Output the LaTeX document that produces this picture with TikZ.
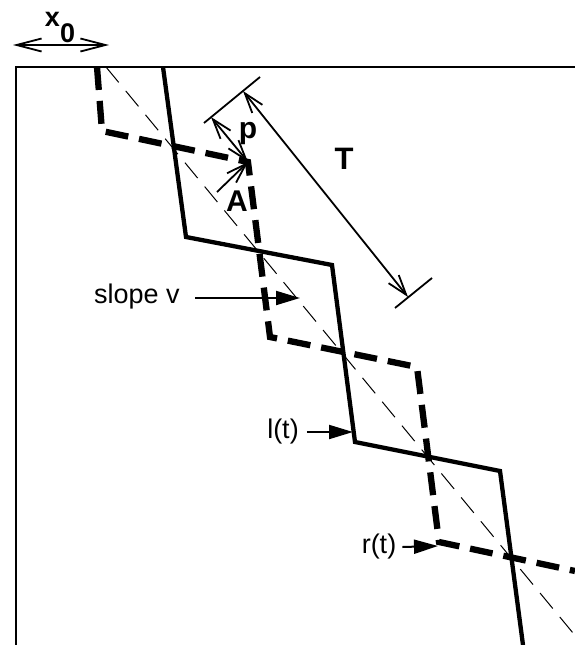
\documentclass[tikz,border=0pt]{standalone}
\usepackage{fontspec}
\setmainfont{Liberation Sans}
\usetikzlibrary{arrows.meta}

\begin{document}
\begin{tikzpicture}[x=1pt,y=-1pt,>={Straight Barb[length=20pt,width=13pt]},
  lbl/.style={font=\fontsize{27}{31}\selectfont, inner sep=0pt},
  blbl/.style={font=\fontsize{30}{34}\selectfont\bfseries, inner sep=0pt},
  pointer/.style={-{Triangle[length=24pt,width=14pt]}, line width=2pt}]
  \useasboundingbox (0,0) rectangle (575,645);

  %frame (left and top only)
  \draw[line width=2pt] (16,645) -- (16,67) -- (575,67);

  %thin centre line of slope v
  \draw[line width=1pt, dash pattern=on 20pt off 11pt] (106,67) -- (573,633);

  %l(t) solid
  \coordinate (l1) at (186,237);
  \coordinate (l2) at (332,265);
  \coordinate (l3) at (355,442);
  \coordinate (l4) at (500,471);
  \draw[line width=4.3pt] (163,67) -- (l1) -- (l2) -- (l3) -- (l4) -- (523,645);

  %r(t) dashed
  \coordinate (r1) at (102,131);
  \coordinate (r2) at (248,162);
  \coordinate (r3) at (270,337);
  \coordinate (r4) at (417,367);
  \coordinate (r5) at (439,542);
  \draw[line width=6.3pt, dash pattern=on 23pt off 11pt]
    (97,67) -- (r1) -- (r2) -- (r3) -- (r4) -- (r5) -- (575,571);

  %x0
  \node[font=\fontsize{27}{31}\selectfont\bfseries, inner sep=0pt] (x0) at (60,27) {x\raisebox{-16pt}{0}};
  \coordinate (x0l) at (13,45);
  \coordinate (x0r) at (109,45);
  \draw[<->, line width=1.8pt, >={Straight Barb[length=25pt,width=13pt]}] (x0l) -- (x0r);

  %period T with ticks
  \coordinate (t1a) at (204,123);
  \coordinate (t1b) at (260,77);
  \coordinate (t2a) at (432,278);
  \coordinate (t2b) at (395,308);
  \draw[line width=1.8pt] (t1a) -- (t1b);
  \draw[line width=1.8pt] (t2a) -- (t2b);
  \coordinate (Ttop) at (243,91);
  \coordinate (Tbot) at (408,297);
  \draw[<->, line width=1.8pt] (Ttop) -- (Tbot);
  \node[blbl, font=\fontsize{31}{35}\selectfont\bfseries] (T) at (344,159) {T};

  %phase p and amplitude A
  \coordinate (pstart) at (211,117);
  \draw[<->, line width=1.8pt] (pstart) -- (r2);
  \node[blbl] (p) at (248,134) {p};
  \coordinate (Astart) at (217,192);
  \draw[->, line width=1.8pt] (Astart) -- (r2);
  \node[blbl] (A) at (237,201) {A};

  %labels
  \node[lbl] (slope) at (137,297) {slope v};
  \coordinate (sv) at (300,298);
  \draw[pointer] (195,298) -- (sv);
  \node[lbl] (lt) at (283,432) {l(t)};
  \coordinate (ltend) at (353,432);
  \draw[pointer] (lt.east) ++(8,0) -- (ltend);
  \node[lbl] (rt) at (379,547) {r(t)};
  \coordinate (rtend) at (438,546);
  \draw[pointer] (rt.east) ++(6,0) -- (rtend);
\end{tikzpicture}
\end{document}
